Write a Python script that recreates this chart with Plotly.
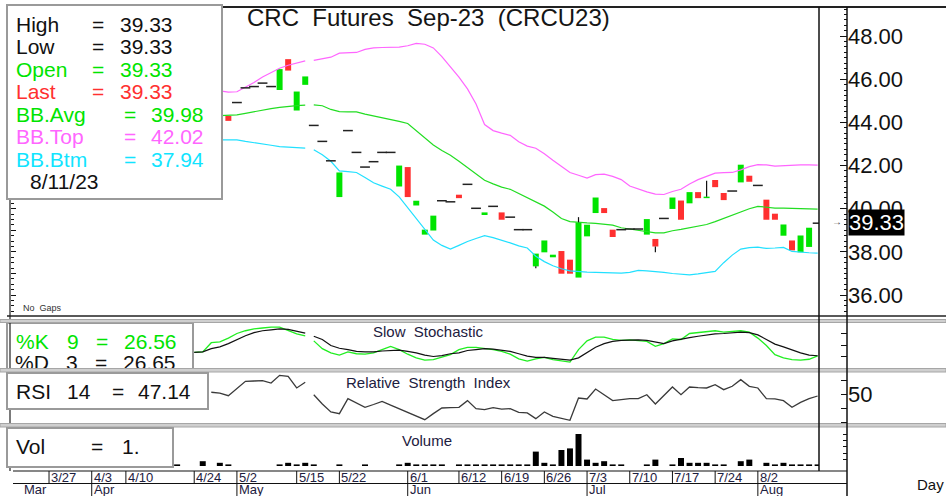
import plotly.graph_objects as go

W, H = 946, 496
def PX(x): return x / W
def PY(y): return 1 - y / H

FONT = 'Liberation Sans, Arial, sans-serif'

# ---------------- data ----------------
# bar index 0 = 3/27 (trading-day index, no gaps)
bar_start = 21
opens = [44.30, 44.92, 45.60, 45.66, 45.82, 45.66, 45.50, 46.93, 44.55, 45.74,
         43.86, 43.12, 42.22, 40.54, 43.62, 42.61, 41.93, 42.18, 42.61, 42.61,
         41.03, 41.93, 40.15, 38.80, 38.99, 40.37, 40.32, 40.65, 41.13, 40.02,
         39.71, 40.11, 39.83, 39.61, 39.03, 39.03, 37.33, 37.98, 37.75, 38.04,
         37.64, 36.81, 38.72, 39.80, 40.03, 39.03, 39.03, 39.06, 39.06, 38.80,
         38.60, 39.55, 39.99, 40.38, 40.25, 40.77, 40.49, 41.33, 40.73, 40.82,
         41.22, 41.53, 41.08, 40.42, 39.77, 38.75, 38.53, 37.98, 38.23, 39.33]
highs = [44.30, 44.92, 45.60, 45.66, 45.82, 45.66, 46.47, 46.93, 45.43, 46.13,
         43.86, 43.12, 42.22, 41.68, 43.62, 42.61, 41.93, 42.18, 42.61, 42.61,
         42.00, 41.93, 40.37, 39.03, 39.68, 40.37, 40.32, 40.65, 41.13, 40.02,
         39.83, 40.11, 39.83, 39.61, 39.03, 39.03, 37.92, 38.53, 37.87, 38.04,
         37.64, 39.61, 39.26, 40.52, 40.03, 39.03, 39.03, 39.06, 39.06, 39.52,
         38.60, 39.55, 40.52, 40.38, 40.77, 40.77, 41.30, 41.33, 40.73, 40.82,
         42.04, 41.53, 41.08, 40.42, 39.77, 39.27, 38.53, 38.76, 39.12, 39.33]
lows = [44.07, 44.92, 45.60, 45.66, 45.82, 45.66, 45.50, 46.40, 44.55, 45.74,
        43.86, 43.12, 42.22, 40.54, 43.62, 42.61, 41.93, 42.18, 42.61, 42.61,
        41.03, 40.54, 40.15, 38.80, 38.99, 40.37, 40.32, 40.49, 41.13, 40.02,
        39.71, 40.11, 39.49, 39.61, 39.03, 39.03, 37.24, 37.98, 37.75, 36.99,
        36.99, 36.81, 38.72, 39.80, 39.80, 38.69, 39.03, 39.06, 39.06, 38.80,
        37.98, 39.55, 39.99, 39.49, 40.25, 40.49, 40.49, 41.00, 40.40, 40.82,
        41.22, 41.25, 41.08, 39.49, 39.49, 38.75, 38.07, 37.98, 38.23, 39.33]
closes = [44.07, 44.92, 45.60, 45.66, 45.82, 45.66, 46.47, 46.40, 45.43, 46.13,
          43.86, 43.12, 42.22, 41.68, 43.62, 42.61, 41.93, 42.18, 42.61, 42.61,
          42.00, 40.54, 40.37, 39.03, 39.68, 40.37, 40.32, 40.49, 41.13, 40.02,
          39.83, 40.11, 39.49, 39.61, 39.03, 39.03, 37.92, 38.53, 37.87, 36.99,
          36.99, 39.37, 39.26, 40.52, 39.80, 38.69, 39.03, 39.06, 39.06, 39.52,
          38.25, 39.55, 40.52, 39.49, 40.77, 40.49, 40.56, 41.00, 40.40, 40.82,
          42.04, 41.25, 41.08, 39.49, 39.49, 39.27, 38.07, 38.76, 39.12, 39.33]

bb_start = 20
bb_top = [45.46, 45.40, 45.42, 45.63, 45.85, 46.10, 46.30, 46.51, 46.65, 46.75,
          46.85, 46.87, 46.93, 47.02, 47.21, 47.22, 47.24, 47.38, 47.45, 47.47,
          47.48, 47.49, 47.55, 47.66, 47.62, 47.45, 47.05, 46.60, 46.10, 45.55,
          44.85, 43.90, 43.62, 43.50, 43.40, 43.10, 42.90, 42.80, 42.55, 42.25,
          41.95, 41.68, 41.55, 41.42, 41.58, 41.60, 41.50, 41.35, 41.05, 40.90,
          40.78, 40.68, 40.66, 40.80, 40.90, 41.15, 41.35, 41.50, 41.65, 41.67,
          41.68, 41.80, 41.95, 42.04, 42.03, 41.97, 42.00, 42.03, 42.03, 42.03,
          42.02]
bb_avg = [44.31, 44.33, 44.35, 44.42, 44.50, 44.58, 44.64, 44.70, 44.75, 44.78,
          44.80, 44.81, 44.77, 44.60, 44.50, 44.49, 44.49, 44.38, 44.30, 44.22,
          44.15, 44.05, 43.95, 43.62, 43.25, 42.95, 42.70, 42.48, 42.20, 41.90,
          41.58, 41.32, 41.15, 41.00, 40.90, 40.70, 40.52, 40.32, 40.12, 39.85,
          39.55, 39.40, 39.36, 39.34, 39.32, 39.28, 39.24, 39.12, 39.06, 39.00,
          38.93, 38.88, 38.88, 38.98, 39.04, 39.12, 39.20, 39.27, 39.40, 39.55,
          39.68, 39.85, 40.00, 40.11, 40.06, 40.03, 40.03, 40.02, 40.00, 39.99,
          39.98]
bb_btm = [43.19, 43.19, 43.19, 43.12, 43.05, 43.00, 42.94, 42.88, 42.85, 42.83,
          42.81, 42.73, 42.50, 42.20, 41.75, 41.72, 41.68, 41.45, 41.20, 41.05,
          40.90, 40.55, 40.05, 39.60, 39.06, 38.55, 38.30, 38.13, 38.30, 38.48,
          38.62, 38.75, 38.66, 38.55, 38.42, 38.28, 38.18, 37.80, 37.55, 37.36,
          37.22, 37.12, 37.08, 37.06, 37.05, 37.03, 37.02, 37.02, 37.05, 37.14,
          37.12, 37.10, 37.05, 37.00, 36.96, 36.94, 36.98, 37.05, 37.10, 37.50,
          37.85, 38.13, 38.20, 38.22, 38.16, 38.18, 38.21, 38.02, 37.98, 37.96,
          37.94]

stoch_start = 17
pct_k = [34, 35, 55, 57, 65, 75, 81, 85, 87, 89,
         89, 82, 74, 70, 59, 42, 33, 28, 35, 31,
         30, 33, 40, 47, 40, 30, 22, 17, 18, 23,
         29, 40, 45, 45, 43, 40, 36, 30, 20, 15,
         20, 23, 18, 15, 13, 40, 59, 67, 67, 62,
         60, 61, 60, 58, 47, 53, 63, 62, 75, 77,
         78, 81, 78, 79, 81, 78, 65, 49, 29, 22,
         18, 17, 19, 26.56]
pct_d = [34, 35, 42, 46, 53, 62, 70, 77, 81, 83,
         85, 84, 80, 76, 69, 62, 49, 43, 40, 36,
         35, 35, 37, 38, 39, 36, 33, 28, 25, 27,
         31, 33, 38, 40, 42, 41, 38, 36, 31, 26,
         23, 23, 21, 19, 17, 22, 33, 45, 53, 58,
         60, 61, 61, 60, 57, 53, 59, 63, 66, 69,
         72, 74, 75, 77, 78, 77, 72, 62, 52, 46,
         39, 33, 28, 26.65]

rsi_start = 19
rsi = [52.5, 51.2, 47.6, 58.0, 68.1, 68.6, 69.0, 65.7, 76.7, 75.2,
       58.6, 66.7, 49.0, 35.7, 24.3, 21.9, 43.3, 37.0, 31.0, 35.0,
       39.5, 34.0, 29.0, 24.0, 18.6, 13.3, 22.0, 30.0, 30.5, 31.0,
       40.5, 29.0, 27.6, 30.5, 28.5, 29.0, 23.8, 22.9, 14.8, 24.3,
       18.1, 15.0, 12.4, 44.3, 42.9, 57.1, 49.0, 40.5, 42.0, 43.3,
       43.3, 49.0, 35.7, 48.0, 60.0, 49.0, 60.0, 59.0, 58.6, 63.3,
       56.2, 61.0, 70.5, 61.0, 58.6, 43.3, 42.9, 40.5, 31.0, 38.1,
       43.3, 47.14]

vol_start = 15
volume = [1, 0, 0, 3, 0, 2, 1, 0, 0, 0,
          0, 0, 1, 2, 1, 2, 1, 0, 0, 1,
          0, 0, 1, 0, 0, 0, 1, 2, 1, 1,
          1, 1, 0, 1, 1, 1, 1, 1, 1, 1,
          1, 1, 9, 2, 1, 10, 11, 20, 4, 2,
          3, 1, 1, 0, 0, 1, 4, 0, 1, 5,
          2, 2, 2, 1, 1, 0, 3, 4, 0, 2,
          1, 2, 1, 1, 1, 1]

gap_after = 30   # indicator lines break between bar 30 and 31

day_tick_idx = [0, 5, 9, 17, 22, 29, 34, 42, 48, 53, 58, 63, 68, 73, 78, 83]
day_tick_lbl = ['3/27', '4/3', '4/10', '4/24', '5/2', '5/15', '5/22', '6/1',
                '6/12', '6/19', '6/26', '7/3', '7/10', '7/17', '7/24', '8/2']
month_idx = [5, 22, 42, 63, 83]
month_lbl = ['Apr', 'May', 'Jun', 'Jul', 'Aug']
price_ticks = [36, 38, 40, 42, 44, 46, 48]

# ---------------- geometry ----------------
PLOT_L, PLOT_R = 10, 819
X_RANGE = [-4.57, 90.16]
def idx_at(px):
    return X_RANGE[0] + (px - PLOT_L) * (X_RANGE[1] - X_RANGE[0]) / (PLOT_R - PLOT_L)

GREEN = '#00e400'
RED = '#ff3030'
MAGENTA = '#ff66ff'
CYAN = '#11e4ff'
LSIZE = 21
ASIZE = 22

def seg(start, vals):
    xs, ys = [], []
    for k, v in enumerate(vals):
        i = start + k
        xs.append(i); ys.append(v)
        if i == gap_after:
            xs.append(i + 0.5); ys.append(None)
    return xs, ys

fig = go.Figure()

# Bollinger bands
for vals, col in [(bb_top, MAGENTA), (bb_avg, '#22dd22'), (bb_btm, '#22e0ff')]:
    xs, ys = seg(bb_start, vals)
    fig.add_trace(go.Scatter(x=xs, y=ys, mode='lines', line=dict(color=col, width=1.2),
                             yaxis='y', hoverinfo='skip'))

# candles
up_x, up_b, up_h, dn_x, dn_b, dn_h, dash_x, dash_y, wk_x, wk_y = ([] for _ in range(10))
for k, (o, h, l, c) in enumerate(zip(opens, highs, lows, closes)):
    i = bar_start + k
    if o == c:
        dash_x.append(i); dash_y.append(c)
    elif c > o:
        up_x.append(i); up_b.append(o); up_h.append(c - o)
    else:
        dn_x.append(i); dn_b.append(c); dn_h.append(o - c)
    if h > max(o, c):
        wk_x += [i, i, None]; wk_y += [max(o, c), h, None]
    if l < min(o, c):
        wk_x += [i, i, None]; wk_y += [l, min(o, c), None]

fig.add_trace(go.Scatter(x=wk_x, y=wk_y, mode='lines', line=dict(color='#111111', width=1.2),
                         yaxis='y', hoverinfo='skip'))
fig.add_trace(go.Bar(x=up_x, y=up_h, base=up_b, width=0.7, marker=dict(color=GREEN, line=dict(width=0)),
                     yaxis='y', hoverinfo='skip'))
fig.add_trace(go.Bar(x=dn_x, y=dn_h, base=dn_b, width=0.7, marker=dict(color=RED, line=dict(width=0)),
                     yaxis='y', hoverinfo='skip'))
fig.add_trace(go.Scatter(x=dash_x, y=dash_y, mode='markers',
                         marker=dict(symbol='line-ew', size=7, line=dict(width=1.5, color='#222222')),
                         yaxis='y', hoverinfo='skip'))

# stochastic
xs, ys = seg(stoch_start, pct_k)
fig.add_trace(go.Scatter(x=xs, y=ys, mode='lines', line=dict(color='#22ee22', width=1.3), yaxis='y2', hoverinfo='skip'))
xs, ys = seg(stoch_start, pct_d)
fig.add_trace(go.Scatter(x=xs, y=ys, mode='lines', line=dict(color='#111111', width=1.2), yaxis='y2', hoverinfo='skip'))

# clipped "%D" legend line (text clipped by the panel like the original)
STO_Y = lambda py: (368 - py) / 0.46
d_parts = [('%D', 15), ('3', 66), ('=', 95), (f'{pct_d[-1]:.2f}', 123)]
fig.add_trace(go.Scatter(x=[idx_at(p) for _, p in d_parts], y=[STO_Y(364.5)] * len(d_parts),
                         mode='text', text=[t for t, _ in d_parts], textposition='middle right',
                         textfont=dict(family=FONT, size=LSIZE, color='#111111'),
                         cliponaxis=True, yaxis='y2', hoverinfo='skip'))

# RSI
xs, ys = seg(rsi_start, rsi)
fig.add_trace(go.Scatter(x=xs, y=ys, mode='lines', line=dict(color='#3a3a3a', width=1.3), yaxis='y3', hoverinfo='skip'))

# volume
fig.add_trace(go.Bar(x=list(range(vol_start, vol_start + len(volume))), y=volume, width=0.7,
                     marker=dict(color='#000000', line=dict(width=0)), yaxis='y4', hoverinfo='skip'))

# dummy for left tick axis
fig.add_trace(go.Scatter(x=[None], y=[None], yaxis='y5', hoverinfo='skip'))

# ---------------- shapes ----------------
shapes = []
def line(x0, y0, x1, y1, color='black', width=1, layer='above'):
    shapes.append(dict(type='line', xref='paper', yref='paper', x0=PX(x0), x1=PX(x1),
                       y0=PY(y0), y1=PY(y1), line=dict(color=color, width=width), layer=layer))
def rect(x0, y0, x1, y1, fill='white', lc='#9a9a9a', lw=2, layer='above'):
    shapes.append(dict(type='rect', xref='paper', yref='paper', x0=PX(x0), x1=PX(x1),
                       y0=PY(y1), y1=PY(y0), fillcolor=fill, line=dict(color=lc, width=lw), layer=layer))

rect(7, 323, 193, 372, layer='below')           # stochastic legend box (behind clipped text)
line(7, 7, 946, 7, '#222222', 2)                 # top border
line(10, 7, 10, 471, '#222222', 1.2)             # left border
line(7, 316, 946, 316, '#222222', 1.5)           # main bottom border
for y0, y1 in [(319.5, 322.5), (368.5, 372), (423.5, 427)]:
    rect(0, y0, 946, y1, fill='#cfcfcf', lc='#a6a6a6', lw=1)
line(PLOT_R, 7, PLOT_R, 471, '#111111', 1.5)     # plot right edge
line(847, 7, 847, 496, '#111111', 1.5)           # price axis line
line(13, 471, 847, 471, '#111111', 1.2)          # date axis top
line(13, 483.5, 847, 483.5, '#111111', 1.2)      # date/month separator
for xi in day_tick_idx:
    shapes.append(dict(type='line', xref='x', yref='paper', x0=xi, x1=xi, y0=PY(471), y1=PY(483.5),
                       line=dict(color='#111111', width=1), layer='above'))
for xi in month_idx:
    shapes.append(dict(type='line', xref='x', yref='paper', x0=xi, x1=xi, y0=PY(483.5), y1=PY(496),
                       line=dict(color='#111111', width=1), layer='above'))
rect(7, 5, 222, 199)          # main legend box
rect(7, 373, 208, 409)        # RSI legend box
rect(7, 428, 173, 467)        # volume legend box

# ---------------- annotations ----------------
ann = []
def txt(px, py, s, color='#111111', size=LSIZE, xanchor='left', **kw):
    ann.append(dict(xref='paper', yref='paper', x=PX(px), y=PY(py), text=s, showarrow=False,
                    xanchor=xanchor, yanchor='middle', font=dict(family=FONT, size=size, color=color), **kw))

last = f'{closes[-1]:.2f}'
for lab, val, col, py, xe, xv in [
        ('High', f'{highs[-1]:.2f}', '#111111', 24.5, 90, 118),
        ('Low', f'{lows[-1]:.2f}', '#111111', 46.5, 90, 118),
        ('Open', f'{opens[-1]:.2f}', GREEN, 69.5, 90, 118),
        ('Last', last, RED, 91.5, 90, 118),
        ('BB.Avg', f'{bb_avg[-1]:.2f}', GREEN, 114, 122, 149),
        ('BB.Top', f'{bb_top[-1]:.2f}', MAGENTA, 137, 122, 149),
        ('BB.Btm', f'{bb_btm[-1]:.2f}', CYAN, 160, 122, 149)]:
    txt(14, py, lab, col)
    txt(xe, py, '=', col)
    txt(xv, py, val, col)
txt(28, 181.5, '8/11/23')

txt(428, 18, 'CRC\u00a0\u00a0Futures\u00a0\u00a0Sep-23\u00a0\u00a0(CRCU23)', '#151515', 24, xanchor='center')
txt(21, 308, 'No\u00a0\u00a0Gaps', '#333333', 9)

for t, p in [('%K', 14), ('9', 65), ('=', 94), (f'{pct_k[-1]:.2f}', 122)]:
    txt(p, 341, t, GREEN)
txt(428, 331, 'Slow\u00a0\u00a0Stochastic', '#1d2040', 15, xanchor='center')

for t, p in [('RSI', 14), ('14', 65), ('=', 110), (f'{rsi[-1]:.2f}', 136)]:
    txt(p, 391.5, t)
txt(428, 382, 'Relative\u00a0\u00a0Strength\u00a0\u00a0Index', '#1d2040', 15, xanchor='center')

for t, p in [('Vol', 14), ('=', 89), (f'{volume[-1]}.', 120)]:
    txt(p, 446, t)
txt(427, 440, 'Volume', '#1d2040', 15, xanchor='center')

# current price marker
txt(848, 222.5, last, 'white', ASIZE, bgcolor='black', borderpad=0)
txt(837, 222, '\u2192', '#444444', 10, xanchor='center')

# date axis labels
for xi, lb in zip(day_tick_idx, day_tick_lbl):
    ann.append(dict(xref='x', yref='paper', x=xi, y=PY(477.5), text=lb, showarrow=False,
                    xanchor='left', yanchor='middle', font=dict(family=FONT, size=13, color='#1d2040')))
txt(22, 489.5, 'Mar', '#1d2040', 13)
for xi, lb in zip(month_idx, month_lbl):
    ann.append(dict(xref='x', yref='paper', x=xi, y=PY(489.5), text=lb, showarrow=False,
                    xanchor='left', yanchor='middle', font=dict(family=FONT, size=13, color='#1d2040')))
txt(930, 484, 'Day', '#111111', 15, xanchor='center')

# ---------------- axes ----------------
def yax(dom, rng, **kw):
    d = dict(domain=[PY(dom[1]), PY(dom[0])], range=rng, side='right', anchor='free', position=PX(847),
             showgrid=False, zeroline=False, showline=False, ticks='inside', tickcolor='#111111',
             ticklen=6, tickwidth=1, tickfont=dict(family=FONT, size=ASIZE, color='#111111'), fixedrange=True)
    d.update(kw)
    return d

fig.update_layout(
    width=W, height=H, margin=dict(l=0, r=0, t=0, b=0),
    paper_bgcolor='white', plot_bgcolor='rgba(0,0,0,0)',
    showlegend=False, barmode='overlay', font=dict(family=FONT),
    xaxis=dict(domain=[PX(PLOT_L), PX(PLOT_R)], range=X_RANGE, visible=False, anchor='y4', fixedrange=True),
    yaxis=yax((8, 316), [35.03, 49.30], tickvals=price_ticks,
              ticktext=[f'{v:.2f}' for v in price_ticks], ticklen=7,
              minor=dict(tick0=0, dtick=0.25, ticklen=3, ticks='inside', tickcolor='#111111', showgrid=False)),
    yaxis2=yax((322, 370), [-4.35, 100], tickvals=[0, 25, 50, 75, 100], showticklabels=False),
    yaxis3=yax((373, 425), [5.71, 80], tickvals=[10, 30, 50, 70], ticktext=['', '', '50', '']),
    yaxis4=yax((428, 467), [-0.625, 23.75], tickvals=[0, 4, 8, 12, 16, 20], showticklabels=False, ticklen=4),
    yaxis5=dict(overlaying='y', side='left', anchor='free', position=PX(PLOT_L), range=[35.03, 49.30],
                showgrid=False, zeroline=False, showticklabels=False, ticks='inside', ticklen=5,
                tickcolor='#111111', tickvals=list(range(36, 50)),
                minor=dict(tick0=0, dtick=0.25, ticklen=3, ticks='inside', tickcolor='#111111', showgrid=False)),
    shapes=shapes, annotations=ann,
)

fig.write_html('out.html', config={'displayModeBar': False, 'staticPlot': True},
               post_script="document.body.style.margin='0';document.body.style.padding='0';"
                           "document.documentElement.style.overflow='hidden';")
